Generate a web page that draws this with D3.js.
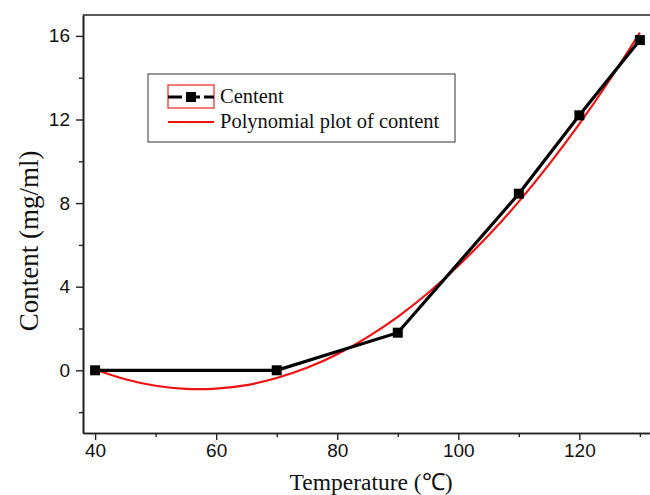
<!DOCTYPE html>
<html>
<head>
<meta charset="utf-8">
<script src="https://cdn.jsdelivr.net/npm/d3@7"></script>
<style>
  body { margin: 0; background: #fff; }
  svg { display: block; }
</style>
</head>
<body>
<div id="chart"></div>
<script>
// measured content values
const temps = [40, 70, 90, 110, 120, 130];
const content = [0, 0, 1.8, 8.45, 12.2, 15.8];

// polynomial fit curve, every 5 degrees
const fitTemps = [40, 45, 50, 55, 60, 65, 70, 75, 80, 85, 90, 95, 100, 105, 110, 115, 120, 125, 130];
const fitContent = [0.04, -0.43, -0.74, -0.89, -0.88, -0.71, -0.37, 0.12, 0.77, 1.59, 2.56, 3.70, 5.00, 6.46, 8.07, 9.85, 11.79, 13.89, 16.16];

const xMajor = [40, 60, 80, 100, 120];
const xMinor = [50, 70, 90, 110, 130];
const yMajor = [0, 4, 8, 12, 16];
const yMinor = [-2, 2, 6, 10, 14];

const legendLabels = ["Centent", "Polynomial plot of content"];

const width = 650, height = 495;
const margin = { left: 83, top: 15, right: 0, bottom: 62 };
const plotRight = 652;

let svg = d3.select('#chart').append('svg')
    .attr('width', width)
    .attr('height', height);

let x = d3.scaleLinear().domain([38, 132]).range([margin.left, plotRight]);
let y = d3.scaleLinear().domain([-3, 17]).range([height - margin.bottom, margin.top]);

const bottomY = y(-3);

// axes (ticks outward)
svg.append('g')
    .attr('transform', 'translate(0,' + bottomY + ')')
    .call(d3.axisBottom(x).tickValues(xMajor).tickSize(7).tickPadding(4).tickSizeOuter(0));
svg.append('g')
    .attr('transform', 'translate(0,' + bottomY + ')')
    .call(d3.axisBottom(x).tickValues(xMinor).tickSize(4).tickFormat('').tickSizeOuter(0));

svg.append('g')
    .attr('transform', 'translate(' + margin.left + ',0)')
    .call(d3.axisLeft(y).tickValues(yMajor).tickSize(7).tickPadding(6).tickSizeOuter(0));
svg.append('g')
    .attr('transform', 'translate(' + margin.left + ',0)')
    .call(d3.axisLeft(y).tickValues(yMinor).tickSize(4).tickFormat('').tickSizeOuter(0));

svg.selectAll('.domain').attr('stroke', '#222').attr('stroke-width', 1.6);
svg.selectAll('.tick line').attr('stroke', '#222').attr('stroke-width', 1.4);
svg.selectAll('.tick text')
    .attr('fill', '#111')
    .style('font-family', '"Liberation Sans", Arial, sans-serif')
    .style('font-size', '19px');

// top frame line
svg.append('line')
    .attr('x1', margin.left).attr('x2', plotRight)
    .attr('y1', y(17)).attr('y2', y(17))
    .attr('stroke', '#222').attr('stroke-width', 1.6);

// polynomial curve
let fitData = fitTemps.map((t, i) => [t, fitContent[i]]);
svg.append('path')
    .datum(fitData)
    .attr('fill', 'none')
    .attr('stroke', '#ee1111')
    .attr('stroke-width', 2.2)
    .attr('d', d3.line().x(d => x(d[0])).y(d => y(d[1])).curve(d3.curveNatural));

// measured line + markers
let pts = temps.map((t, i) => [t, content[i]]);
svg.append('path')
    .datum(pts)
    .attr('fill', 'none')
    .attr('stroke', '#000')
    .attr('stroke-width', 3.2)
    .attr('d', d3.line().x(d => x(d[0])).y(d => y(d[1])));

svg.selectAll('rect.marker')
    .data(pts)
    .enter().append('rect')
    .attr('class', 'marker')
    .attr('x', d => x(d[0]) - 5)
    .attr('y', d => y(d[1]) - 5)
    .attr('width', 10)
    .attr('height', 10)
    .attr('fill', '#000');

// axis titles
svg.append('text')
    .attr('x', 371).attr('y', 490)
    .attr('text-anchor', 'middle')
    .style('font-family', '"Liberation Serif", "Times New Roman", serif')
    .style('font-size', '23.5px')
    .attr('fill', '#111')
    .text('Temperature (℃)');

svg.append('text')
    .attr('transform', 'translate(38,241) rotate(-90)')
    .attr('text-anchor', 'middle')
    .style('font-family', '"Liberation Serif", "Times New Roman", serif')
    .style('font-size', '27px')
    .attr('fill', '#111')
    .text('Content (mg/ml)');

// legend
let legend = svg.append('g');
legend.append('rect')
    .attr('x', 148).attr('y', 74).attr('width', 307).attr('height', 68)
    .attr('fill', '#fff').attr('stroke', '#555').attr('stroke-width', 1.2);

legend.append('rect')
    .attr('x', 168).attr('y', 85).attr('width', 46).attr('height', 23)
    .attr('fill', 'none').attr('stroke', '#ee2222').attr('stroke-width', 1.2);
legend.append('line')
    .attr('x1', 168).attr('x2', 214).attr('y1', 97).attr('y2', 97)
    .attr('stroke', '#000').attr('stroke-width', 3)
    .attr('stroke-dasharray', '14,4');
legend.append('rect')
    .attr('x', 186).attr('y', 92).attr('width', 10).attr('height', 10)
    .attr('fill', '#000');
legend.append('line')
    .attr('x1', 168).attr('x2', 214).attr('y1', 122).attr('y2', 122)
    .attr('stroke', '#ee1111').attr('stroke-width', 2.2);

legend.selectAll('text')
    .data(legendLabels)
    .enter().append('text')
    .attr('x', 220)
    .attr('y', (d, i) => 103 + i * 25)
    .style('font-family', '"Liberation Serif", "Times New Roman", serif')
    .style('font-size', '20.5px')
    .attr('fill', '#111')
    .text(d => d);
</script>
</body>
</html>
